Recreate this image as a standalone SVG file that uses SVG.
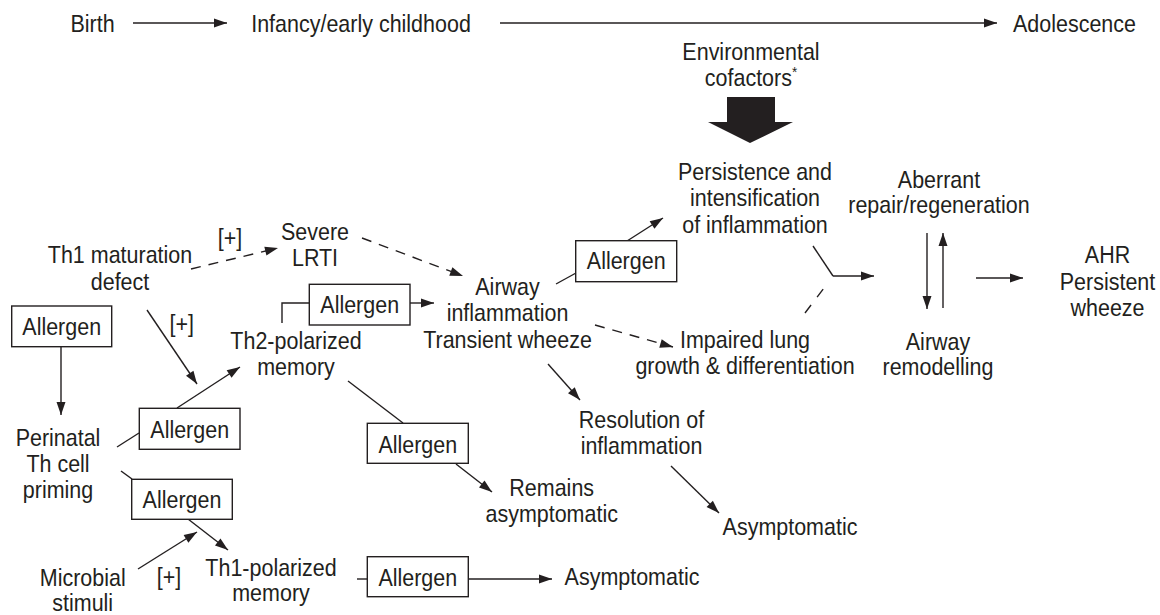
<svg xmlns="http://www.w3.org/2000/svg" width="1160" height="615" viewBox="0 0 1160 615">
<style>
.t{font-family:"Liberation Sans",Arial,Helvetica,sans-serif;font-size:24px;fill:#231f20;text-anchor:middle}
.ln{fill:none;stroke:#231f20;stroke-width:1.4}
.ar{marker-end:url(#ah)}
.d{stroke-dasharray:10 8}
.box{fill:#fff;stroke:#231f20;stroke-width:1.4}
</style>
<defs>
<marker id="ah" markerUnits="userSpaceOnUse" markerWidth="14" markerHeight="10" refX="13" refY="4.5" orient="auto" overflow="visible">
<path d="M0,0 L13,4.5 L0,9 z" fill="#231f20" stroke="none"/>
</marker>
</defs>
<rect width="1160" height="615" fill="#fff"/>

<g id="connectors">
<path class="ln ar" d="M133,23 L227,23"/>
<path class="ln ar" d="M500,23 L997,23"/>
<path class="ln ar d" d="M191,269 L278,248"/>
<path class="ln ar d" d="M362,238 L463,276"/>
<path class="ln ar" d="M147,310 L197,384"/>
<path class="ln ar" d="M61,347 L61,415"/>
<path class="ln" d="M117,447 L139,433"/>
<path class="ln ar" d="M177,408 L240,367"/>
<path class="ln" d="M121,471 L132,479"/>
<path class="ln ar" d="M188,519 L228,550"/>
<path class="ln ar" d="M138,569 L197,532"/>
<path class="ln" d="M282,323 V303 H309"/>
<path class="ln ar" d="M410,303 L434,303"/>
<path class="ln" d="M348,381 L403,423"/>
<path class="ln ar" d="M456,464 L492,492"/>
<path class="ln" d="M357,579 L367,579"/>
<path class="ln ar" d="M468,579 L552,579"/>
<path class="ln" d="M556,284 L576,273"/>
<path class="ln ar" d="M627,241 L663,218"/>
<path class="ln ar d" d="M595,325 L673,347"/>
<path class="ln ar" d="M548,364 L580,400"/>
<path class="ln ar" d="M671,466 L719,513"/>
<path class="ln" d="M813,246 L833,276"/>
<path class="ln" d="M805,313 L824,288" style="stroke-dasharray:10 10"/>
<path class="ln ar" d="M833,276 L874,276"/>
<path class="ln ar" d="M927,233 L927,309"/>
<path class="ln ar" d="M943,308 L943,233"/>
<path class="ln ar" d="M976,278 L1023,278"/>
<path id="bigArrow" d="M727,97 H775 V122 H793 L750,143 L708,122 H727 Z" fill="#231f20"/>
</g>

<g id="birth"><text class="t" transform="translate(92.5,0) scale(0.895,1)"><tspan x="0" y="32">Birth</tspan></text></g>
<g id="infancy"><text class="t" transform="translate(361,0) scale(0.895,1)"><tspan x="0" y="32">Infancy/early childhood</tspan></text></g>
<g id="adolescence"><text class="t" transform="translate(1074.5,0) scale(0.895,1)"><tspan x="0" y="32">Adolescence</tspan></text></g>

<g id="env"><text class="t" transform="translate(751,0) scale(0.895,1)"><tspan x="0" y="60">Environmental</tspan><tspan x="0" y="86">cofactors<tspan font-size="15" dy="-9">*</tspan></tspan></text></g>

<g id="persistence"><text class="t" transform="translate(755,0) scale(0.895,1)"><tspan x="0" y="180">Persistence and</tspan><tspan x="0" y="206.5">intensification</tspan><tspan x="0" y="233">of inflammation</tspan></text></g>

<g id="aberrant"><text class="t" transform="translate(939,0) scale(0.895,1)"><tspan x="0" y="188">Aberrant</tspan><tspan x="0" y="213.5">repair/regeneration</tspan></text></g>

<g id="remodelling"><text class="t" transform="translate(938,0) scale(0.895,1)"><tspan x="0" y="350">Airway</tspan><tspan x="0" y="375.5">remodelling</tspan></text></g>

<g id="ahr"><text class="t" transform="translate(1107.5,0) scale(0.895,1)"><tspan x="0" y="263.5">AHR</tspan><tspan x="0" y="290">Persistent</tspan><tspan x="0" y="316">wheeze</tspan></text></g>

<g id="impaired"><text class="t" transform="translate(745,0) scale(0.895,1)"><tspan x="0" y="348">Impaired lung</tspan><tspan x="0" y="374">growth &amp; differentiation</tspan></text></g>

<g id="airway"><text class="t" transform="translate(507.5,0) scale(0.895,1)"><tspan x="0" y="295">Airway</tspan><tspan x="0" y="321.5">inflammation</tspan><tspan x="0" y="348">Transient wheeze</tspan></text></g>

<g id="resolution"><text class="t" transform="translate(641.5,0) scale(0.895,1)"><tspan x="0" y="428">Resolution of</tspan><tspan x="0" y="454">inflammation</tspan></text></g>

<g id="asymp-right"><text class="t" transform="translate(790,0) scale(0.895,1)"><tspan x="0" y="535">Asymptomatic</tspan></text></g>
<g id="asymp-bottom"><text class="t" transform="translate(632,0) scale(0.895,1)"><tspan x="0" y="585">Asymptomatic</tspan></text></g>

<g id="remains"><text class="t" transform="translate(551.7,0) scale(0.895,1)"><tspan x="0" y="496">Remains</tspan><tspan x="0" y="522">asymptomatic</tspan></text></g>

<g id="th1defect"><text class="t" transform="translate(120,0) scale(0.895,1)"><tspan x="0" y="263">Th1 maturation</tspan><tspan x="0" y="290.5">defect</tspan></text></g>

<g id="plus1"><text class="t" transform="translate(230,0) scale(0.895,1)"><tspan x="0" y="246">[+]</tspan></text></g>
<g id="plus2"><text class="t" transform="translate(181.7,0) scale(0.895,1)"><tspan x="0" y="332">[+]</tspan></text></g>
<g id="plus3"><text class="t" transform="translate(169,0) scale(0.895,1)"><tspan x="0" y="585">[+]</tspan></text></g>

<g id="severe"><text class="t" transform="translate(315,0) scale(0.895,1)"><tspan x="0" y="240.5">Severe</tspan><tspan x="0" y="266.5">LRTI</tspan></text></g>

<g id="th2mem"><text class="t" transform="translate(296,0) scale(0.895,1)"><tspan x="0" y="349">Th2-polarized</tspan><tspan x="0" y="375">memory</tspan></text></g>

<g id="perinatal"><text class="t" transform="translate(58,0) scale(0.895,1)"><tspan x="0" y="446.5">Perinatal</tspan><tspan x="0" y="472.5">Th cell</tspan><tspan x="0" y="498">priming</tspan></text></g>

<g id="th1mem"><text class="t" transform="translate(271,0) scale(0.895,1)"><tspan x="0" y="576">Th1-polarized</tspan><tspan x="0" y="601.5">memory</tspan></text></g>

<g id="microbial"><text class="t" transform="translate(82.7,0) scale(0.895,1)"><tspan x="0" y="586.5">Microbial</tspan><tspan x="0" y="611.5">stimuli</tspan></text></g>

<g id="allergen1"><rect class="box" x="11.7" y="306" width="100" height="40.7"/><text class="t" transform="translate(61.7,0) scale(0.895,1)"><tspan x="0" y="335">Allergen</tspan></text></g>
<g id="allergen2"><rect class="box" x="139.3" y="408.3" width="100.7" height="41"/><text class="t" transform="translate(189.7,0) scale(0.895,1)"><tspan x="0" y="438">Allergen</tspan></text></g>
<g id="allergen3"><rect class="box" x="131.7" y="479.3" width="100.6" height="40"/><text class="t" transform="translate(182,0) scale(0.895,1)"><tspan x="0" y="508.3">Allergen</tspan></text></g>
<g id="allergen4"><rect class="box" x="309.3" y="284.3" width="100.7" height="40.7"/><text class="t" transform="translate(359.7,0) scale(0.895,1)"><tspan x="0" y="313.3">Allergen</tspan></text></g>
<g id="allergen5"><rect class="box" x="367.3" y="423.3" width="101" height="40"/><text class="t" transform="translate(417.8,0) scale(0.895,1)"><tspan x="0" y="452.7">Allergen</tspan></text></g>
<g id="allergen6"><rect class="box" x="367.3" y="556.7" width="101" height="40"/><text class="t" transform="translate(417.8,0) scale(0.895,1)"><tspan x="0" y="586">Allergen</tspan></text></g>
<g id="allergen7"><rect class="box" x="575.7" y="240.7" width="101" height="41"/><text class="t" transform="translate(626.2,0) scale(0.895,1)"><tspan x="0" y="269.3">Allergen</tspan></text></g>
</svg>
